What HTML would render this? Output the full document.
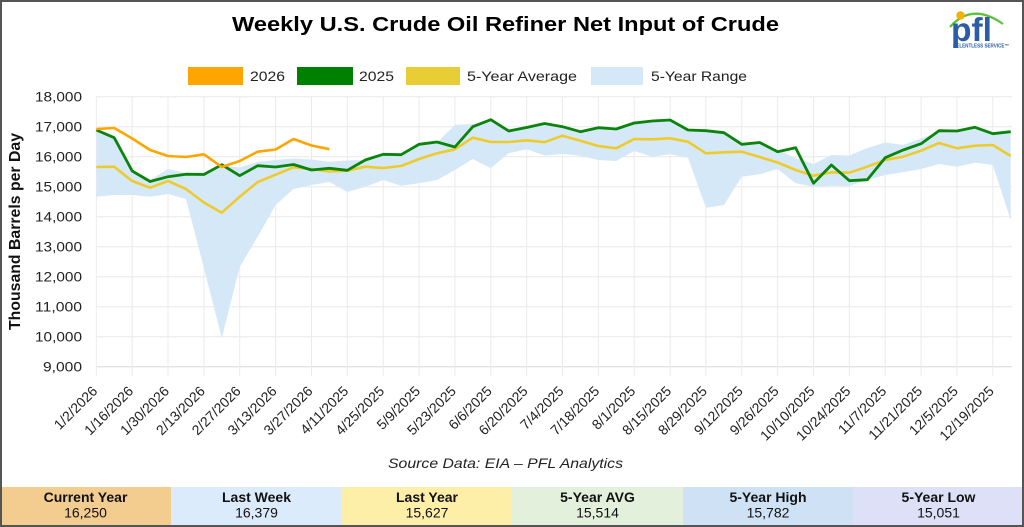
<!DOCTYPE html>
<html>
<head>
<meta charset="utf-8">
<style>
  html,body{margin:0;padding:0;background:#fff;}
  body{width:1024px;height:527px;overflow:hidden;}
  svg{display:block;font-family:"Liberation Sans",Arial,sans-serif;}
</style>
</head>
<body>
<svg width="1024" height="527" viewBox="0 0 1024 527" xmlns="http://www.w3.org/2000/svg">
  <rect x="0" y="0" width="1024" height="527" fill="#ffffff"/>

  <!-- Title -->
  <text x="505.5" y="31" text-anchor="middle" font-size="20" font-weight="bold" fill="#000" textLength="547" lengthAdjust="spacingAndGlyphs">Weekly U.S. Crude Oil Refiner Net Input of Crude</text>

  <!-- Logo -->
  <g>
    <path d="M950,27 Q972,2 1003,24" fill="none" stroke="#5cc23a" stroke-width="2.2"/>
    <circle cx="960.5" cy="15.5" r="4.2" fill="#f5b000"/>
    <text x="951" y="41" font-size="33" font-weight="bold" fill="#2b5ca8" textLength="41" lengthAdjust="spacingAndGlyphs">pfl</text>
    <text x="953" y="47.5" font-size="5" font-weight="bold" fill="#2b5ca8" textLength="56" lengthAdjust="spacingAndGlyphs">RELENTLESS SERVICE™</text>
  </g>

  <!-- Legend -->
  <rect x="188" y="67" width="55" height="18" fill="#ffa500"/>
  <text x="250" y="81" font-size="14" fill="#222" textLength="35" lengthAdjust="spacingAndGlyphs">2026</text>
  <rect x="297" y="67" width="56" height="18" fill="#008000"/>
  <text x="359" y="81" font-size="14" fill="#222" textLength="35" lengthAdjust="spacingAndGlyphs">2025</text>
  <rect x="406" y="67" width="54" height="18" fill="#e9cd35"/>
  <text x="467" y="81" font-size="14" fill="#222" textLength="110" lengthAdjust="spacingAndGlyphs">5-Year Average</text>
  <rect x="591" y="67" width="52" height="18" fill="#d5e8f8"/>
  <text x="651" y="81" font-size="14" fill="#222" textLength="96" lengthAdjust="spacingAndGlyphs">5-Year Range</text>

  <!-- Horizontal gridlines -->
  <g stroke="#e8e8e8" stroke-width="1">
    <line x1="96" y1="96.7" x2="1012" y2="96.7"/>
    <line x1="96" y1="126.7" x2="1012" y2="126.7"/>
    <line x1="96" y1="156.7" x2="1012" y2="156.7"/>
    <line x1="96" y1="186.7" x2="1012" y2="186.7"/>
    <line x1="96" y1="216.7" x2="1012" y2="216.7"/>
    <line x1="96" y1="246.7" x2="1012" y2="246.7"/>
    <line x1="96" y1="276.7" x2="1012" y2="276.7"/>
    <line x1="96" y1="306.7" x2="1012" y2="306.7"/>
    <line x1="96" y1="336.7" x2="1012" y2="336.7"/>
  </g>
  <line x1="96" y1="366.7" x2="1012" y2="366.7" stroke="#d8d8d8" stroke-width="1"/>

  <!-- Vertical gridlines -->
  <g stroke="#ebebeb" stroke-width="1">
    <line x1="96.3" y1="96.7" x2="96.3" y2="376"/>
    <line x1="132.2" y1="96.7" x2="132.2" y2="376"/>
    <line x1="168" y1="96.7" x2="168" y2="376"/>
    <line x1="203.9" y1="96.7" x2="203.9" y2="376"/>
    <line x1="239.7" y1="96.7" x2="239.7" y2="376"/>
    <line x1="275.6" y1="96.7" x2="275.6" y2="376"/>
    <line x1="311.5" y1="96.7" x2="311.5" y2="376"/>
    <line x1="347.3" y1="96.7" x2="347.3" y2="376"/>
    <line x1="383.2" y1="96.7" x2="383.2" y2="376"/>
    <line x1="419" y1="96.7" x2="419" y2="376"/>
    <line x1="454.9" y1="96.7" x2="454.9" y2="376"/>
    <line x1="490.8" y1="96.7" x2="490.8" y2="376"/>
    <line x1="526.6" y1="96.7" x2="526.6" y2="376"/>
    <line x1="562.5" y1="96.7" x2="562.5" y2="376"/>
    <line x1="598.3" y1="96.7" x2="598.3" y2="376"/>
    <line x1="634.2" y1="96.7" x2="634.2" y2="376"/>
    <line x1="670.1" y1="96.7" x2="670.1" y2="376"/>
    <line x1="705.9" y1="96.7" x2="705.9" y2="376"/>
    <line x1="741.8" y1="96.7" x2="741.8" y2="376"/>
    <line x1="777.6" y1="96.7" x2="777.6" y2="376"/>
    <line x1="813.5" y1="96.7" x2="813.5" y2="376"/>
    <line x1="849.4" y1="96.7" x2="849.4" y2="376"/>
    <line x1="885.2" y1="96.7" x2="885.2" y2="376"/>
    <line x1="921.1" y1="96.7" x2="921.1" y2="376"/>
    <line x1="956.9" y1="96.7" x2="956.9" y2="376"/>
    <line x1="992.8" y1="96.7" x2="992.8" y2="376"/>
  </g>

  <!-- Y tick labels -->
  <g font-size="14" fill="#222" text-anchor="end">
    <text x="82" y="101.7" textLength="47" lengthAdjust="spacingAndGlyphs">18,000</text>
    <text x="82" y="131.7" textLength="47" lengthAdjust="spacingAndGlyphs">17,000</text>
    <text x="82" y="161.7" textLength="47" lengthAdjust="spacingAndGlyphs">16,000</text>
    <text x="82" y="191.7" textLength="47" lengthAdjust="spacingAndGlyphs">15,000</text>
    <text x="82" y="221.7" textLength="47" lengthAdjust="spacingAndGlyphs">14,000</text>
    <text x="82" y="251.7" textLength="47" lengthAdjust="spacingAndGlyphs">13,000</text>
    <text x="82" y="281.7" textLength="47" lengthAdjust="spacingAndGlyphs">12,000</text>
    <text x="82" y="311.7" textLength="47" lengthAdjust="spacingAndGlyphs">11,000</text>
    <text x="82" y="341.7" textLength="47" lengthAdjust="spacingAndGlyphs">10,000</text>
    <text x="82" y="371.7" textLength="39" lengthAdjust="spacingAndGlyphs">9,000</text>
  </g>

  <!-- Y axis title -->
  <text transform="translate(20,231.5) rotate(-90)" text-anchor="middle" font-size="15.5" font-weight="bold" fill="#111" textLength="197" lengthAdjust="spacingAndGlyphs">Thousand Barrels per Day</text>

  <!-- 5-Year Range band -->
  <polygon fill="#d5e8f8" points="96.3,129.5 114.2,137.5 132.2,170 150.1,180 168,169 186,173 203.9,172.5 221.8,165.5 239.7,167.5 257.7,161.7 275.6,160 293.5,158.5 311.5,159.5 329.4,161.7 347.3,160.5 365.3,160 383.2,155 401.1,155 419,145 437,142.5 454.9,125 472.8,124 490.8,122 508.7,131.5 526.6,128 544.6,124 562.5,127.5 580.4,132 598.3,128.5 616.3,130 634.2,124 652.1,122 670.1,121 688,131 705.9,131.5 723.9,133.5 741.8,145 759.7,143.5 777.6,150 795.6,158 813.5,164 831.4,155 849.4,155.5 867.3,148 885.2,142.5 903.2,145 921.1,138.5 939,131.5 956.9,132 974.9,128 992.8,134.5 1010.7,132.5 1010.7,220 992.8,165 974.9,162.7 956.9,166.7 939,164 921.1,169 903.2,172.3 885.2,175 867.3,180 849.4,186 831.4,185.7 813.5,186.7 795.6,183.3 777.6,169 759.7,174.3 741.8,176.7 723.9,205 705.9,207.7 688,157.7 670.1,154.3 652.1,156.7 634.2,151 616.3,161 598.3,160 580.4,155.7 562.5,154 544.6,155.5 526.6,149.3 508.7,153.3 490.8,168.3 472.8,159 454.9,170 437,180 419,183.3 401.1,185.7 383.2,180 365.3,186.7 347.3,192 329.4,182 311.5,185 293.5,189 275.6,205 257.7,236.7 239.7,267 221.8,338 203.9,268 186,199 168,194 150.1,196.7 132.2,195 114.2,195 96.3,196.7"/>

  <!-- 5-Year Average -->
  <polyline fill="none" stroke="#eecb2c" stroke-width="2.6" stroke-linejoin="round" points="96.3,167 114.2,166.7 132.2,181 150.1,187.7 168,181 186,189 203.9,202.5 221.8,212.7 239.7,196.7 257.7,182 275.6,174.7 293.5,167.3 311.5,169 329.4,171.5 347.3,170.7 365.3,166.7 383.2,168 401.1,166 419,159 437,153.3 454.9,149.3 472.8,137.7 490.8,142 508.7,142 526.6,140.3 544.6,142.2 562.5,135.7 580.4,140.7 598.3,146 616.3,148.3 634.2,139 652.1,139.3 670.1,138.3 688,141.7 705.9,153.3 723.9,152.3 741.8,151.7 759.7,157 777.6,162.5 795.6,170 813.5,175.7 831.4,172.3 849.4,172.7 867.3,166.7 885.2,160 903.2,156.7 921.1,150.7 939,143 956.9,148.3 974.9,145.7 992.8,145 1010.7,156"/>

  <!-- 2025 -->
  <polyline fill="none" stroke="#0a840a" stroke-width="2.8" stroke-linejoin="round" points="96.3,130 114.2,137.7 132.2,171 150.1,181.5 168,176.7 186,174.2 203.9,174.5 221.8,164.7 239.7,175.7 257.7,165.7 275.6,167 293.5,164.5 311.5,170 329.4,168.3 347.3,170.3 365.3,160 383.2,154.3 401.1,154.7 419,144.3 437,142 454.9,147 472.8,126.7 490.8,119.7 508.7,131 526.6,127.5 544.6,123.5 562.5,126.7 580.4,131.7 598.3,127.7 616.3,129 634.2,123 652.1,121 670.1,120 688,130 705.9,130.7 723.9,132.7 741.8,144.3 759.7,142.5 777.6,151.7 795.6,147.7 813.5,183.3 831.4,165 849.4,180.7 867.3,179.7 885.2,157.7 903.2,150 921.1,143.7 939,130.7 956.9,131 974.9,127.3 992.8,133.7 1010.7,131.7"/>

  <!-- 2026 -->
  <polyline fill="none" stroke="#ffa500" stroke-width="2.6" stroke-linejoin="round" points="96.3,129 114.2,128 132.2,138.5 150.1,150 168,156 186,157 203.9,154.3 221.8,167 239.7,161 257.7,151.7 275.6,149.5 293.5,139 311.5,145.5 329.4,149.2"/>

  <!-- X tick labels -->
  <g font-size="14" fill="#222" text-anchor="end">
    <text transform="translate(98.3,392) rotate(-45)">1/2/2026</text>
    <text transform="translate(134.2,392) rotate(-45)">1/16/2026</text>
    <text transform="translate(170,392) rotate(-45)">1/30/2026</text>
    <text transform="translate(205.9,392) rotate(-45)">2/13/2026</text>
    <text transform="translate(241.7,392) rotate(-45)">2/27/2026</text>
    <text transform="translate(277.6,392) rotate(-45)">3/13/2026</text>
    <text transform="translate(313.5,392) rotate(-45)">3/27/2026</text>
    <text transform="translate(349.3,392) rotate(-45)">4/11/2025</text>
    <text transform="translate(385.2,392) rotate(-45)">4/25/2025</text>
    <text transform="translate(421,392) rotate(-45)">5/9/2025</text>
    <text transform="translate(456.9,392) rotate(-45)">5/23/2025</text>
    <text transform="translate(492.8,392) rotate(-45)">6/6/2025</text>
    <text transform="translate(528.6,392) rotate(-45)">6/20/2025</text>
    <text transform="translate(564.5,392) rotate(-45)">7/4/2025</text>
    <text transform="translate(600.3,392) rotate(-45)">7/18/2025</text>
    <text transform="translate(636.2,392) rotate(-45)">8/1/2025</text>
    <text transform="translate(672.1,392) rotate(-45)">8/15/2025</text>
    <text transform="translate(707.9,392) rotate(-45)">8/29/2025</text>
    <text transform="translate(743.8,392) rotate(-45)">9/12/2025</text>
    <text transform="translate(779.6,392) rotate(-45)">9/26/2025</text>
    <text transform="translate(815.5,392) rotate(-45)">10/10/2025</text>
    <text transform="translate(851.4,392) rotate(-45)">10/24/2025</text>
    <text transform="translate(887.2,392) rotate(-45)">11/7/2025</text>
    <text transform="translate(923.1,392) rotate(-45)">11/21/2025</text>
    <text transform="translate(958.9,392) rotate(-45)">12/5/2025</text>
    <text transform="translate(994.8,392) rotate(-45)">12/19/2025</text>
  </g>

  <!-- Source -->
  <text x="388" y="468" font-size="14" font-style="italic" fill="#222" textLength="235" lengthAdjust="spacingAndGlyphs">Source Data: EIA – PFL Analytics</text>

  <!-- Bottom table -->
  <rect x="0" y="487" width="171" height="40" fill="#f3cd8f"/>
  <rect x="171" y="487" width="171" height="40" fill="#dcebfb"/>
  <rect x="342" y="487" width="170" height="40" fill="#fdeea8"/>
  <rect x="512" y="487" width="171" height="40" fill="#e2f0dc"/>
  <rect x="683" y="487" width="170" height="40" fill="#cfe2f5"/>
  <rect x="853" y="487" width="171" height="40" fill="#dde0f6"/>
  <g font-size="14" fill="#111" text-anchor="middle">
    <text x="85.5" y="502" font-weight="bold">Current Year</text>
    <text x="85.5" y="517.5">16,250</text>
    <text x="256.5" y="502" font-weight="bold">Last Week</text>
    <text x="256.5" y="517.5">16,379</text>
    <text x="427" y="502" font-weight="bold">Last Year</text>
    <text x="427" y="517.5">15,627</text>
    <text x="597.5" y="502" font-weight="bold">5-Year AVG</text>
    <text x="597.5" y="517.5">15,514</text>
    <text x="768" y="502" font-weight="bold">5-Year High</text>
    <text x="768" y="517.5">15,782</text>
    <text x="938.5" y="502" font-weight="bold">5-Year Low</text>
    <text x="938.5" y="517.5">15,051</text>
  </g>

  <!-- Outer border -->
  <rect x="1" y="1" width="1022" height="525" fill="none" stroke="#555" stroke-width="2"/>
</svg>
</body>
</html>
